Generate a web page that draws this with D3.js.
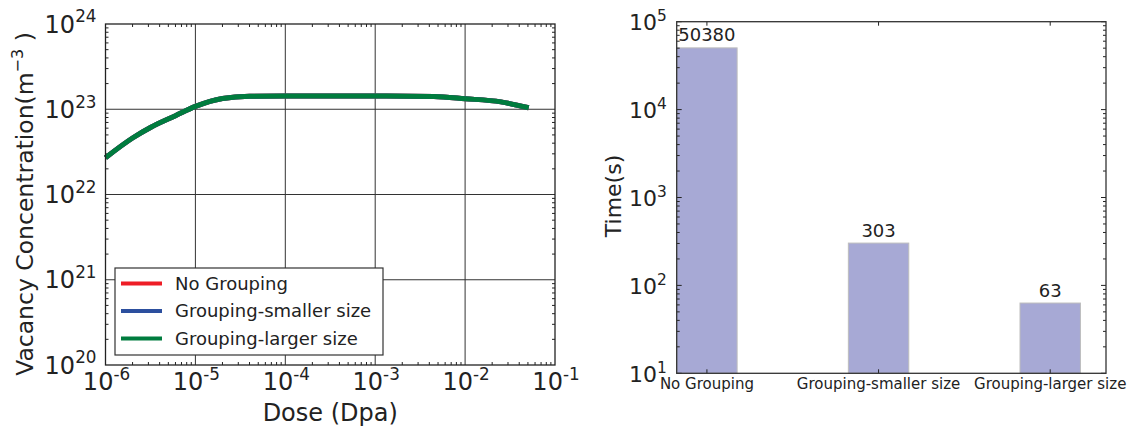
<!DOCTYPE html>
<html><head><meta charset="utf-8">
<script src="https://cdn.jsdelivr.net/npm/d3@7"></script>
<style>
body{margin:0;background:#fff;}
svg{display:block;font-family:"DejaVu Sans",sans-serif;}
</style></head><body>
<svg id="c" width="1135" height="432"></svg>
<script>
// ---- Left chart data ----
const dose = [1e-6, 2e-6, 3.2e-6, 6e-6, 1e-5, 2e-5, 4e-5, 1e-4, 1e-3, 4.5e-3, 1e-2, 2.5e-2, 5.1e-2];
const noGrouping      = [2.7e22, 4.6e22, 6.15e22, 8.4e22, 1.08e23, 1.34e23, 1.42e23, 1.43e23, 1.43e23, 1.41e23, 1.33e23, 1.22e23, 1.04e23];
const groupingSmaller = [2.7e22, 4.6e22, 6.15e22, 8.4e22, 1.08e23, 1.34e23, 1.42e23, 1.43e23, 1.43e23, 1.41e23, 1.33e23, 1.22e23, 1.04e23];
const groupingLarger  = [2.7e22, 4.6e22, 6.15e22, 8.4e22, 1.08e23, 1.34e23, 1.42e23, 1.43e23, 1.43e23, 1.41e23, 1.33e23, 1.22e23, 1.04e23];
const seriesNames = ["No Grouping", "Grouping-smaller size", "Grouping-larger size"];
const xTickExps = [-6, -5, -4, -3, -2, -1];
const yTickExps = [20, 21, 22, 23, 24];

// ---- Right chart data ----
const methods = ["No Grouping", "Grouping-smaller size", "Grouping-larger size"];
const times = [50380, 303, 63];
const timeTickExps = [1, 2, 3, 4, 5];

const svg = d3.select("#c");

function sciLabel(g, x, y, exp, size, anchor) {
  const t = g.append("text").attr("x", x).attr("y", y).attr("text-anchor", anchor)
    .attr("font-size", size).attr("fill", "#222");
  t.append("tspan").text("10");
  t.append("tspan").attr("dy", -size * 0.42).attr("font-size", size * 0.7).text(String(exp));
  return t;
}

// ================= LEFT CHART =================
const L = {left: 105.5, right: 555, top: 24, bottom: 365};
const x = d3.scaleLog().domain([1e-6, 1e-1]).range([L.left, L.right]);
const y = d3.scaleLog().domain([1e20, 1e24]).range([L.bottom, L.top]);
const gL = svg.append("g");

// grid
xTickExps.slice(1, -1).forEach(e => {
  gL.append("line").attr("x1", x(10 ** e)).attr("x2", x(10 ** e)).attr("y1", L.top).attr("y2", L.bottom)
    .attr("stroke", "#333").attr("stroke-width", 1);
});
yTickExps.slice(1, -1).forEach(e => {
  gL.append("line").attr("y1", y(10 ** e)).attr("y2", y(10 ** e)).attr("x1", L.left).attr("x2", L.right)
    .attr("stroke", "#333").attr("stroke-width", 1);
});

// minor ticks
const xMinor = [];
for (let e = -6; e < -1; e++) for (let m = 2; m <= 9; m++) xMinor.push(m * 10 ** e);
const yMinor = [];
for (let e = 20; e < 24; e++) for (let m = 2; m <= 9; m++) yMinor.push(m * 10 ** e);
xMinor.forEach(v => {
  gL.append("line").attr("x1", x(v)).attr("x2", x(v)).attr("y1", L.bottom).attr("y2", L.bottom - 3).attr("stroke", "#222");
  gL.append("line").attr("x1", x(v)).attr("x2", x(v)).attr("y1", L.top).attr("y2", L.top + 3).attr("stroke", "#222");
});
yMinor.forEach(v => {
  gL.append("line").attr("y1", y(v)).attr("y2", y(v)).attr("x1", L.left).attr("x2", L.left + 3).attr("stroke", "#222");
  gL.append("line").attr("y1", y(v)).attr("y2", y(v)).attr("x1", L.right).attr("x2", L.right - 3).attr("stroke", "#222");
});

// lines
const lineGen = vals => d3.line().curve(d3.curveMonotoneX).x((d, i) => x(dose[i])).y(d => y(d))(vals);
const colors = ["#ee1d26", "#2c4f9e", "#007c3e"];
[noGrouping, groupingSmaller, groupingLarger].forEach((vals, i) => {
  gL.append("path").attr("d", lineGen(vals)).attr("fill", "none").attr("stroke", colors[i])
    .attr("stroke-width", 5).attr("stroke-linejoin", "round");
});

// frame
gL.append("rect").attr("x", L.left).attr("y", L.top).attr("width", L.right - L.left).attr("height", L.bottom - L.top)
  .attr("fill", "none").attr("stroke", "#222").attr("stroke-width", 1.3);

// tick labels
xTickExps.forEach(e => sciLabel(gL, x(10 ** e) + 1, L.bottom + 25, e, 24, "middle"));
yTickExps.forEach(e => sciLabel(gL, L.left - 9, y(10 ** e) + 8.5, e, 24, "end"));

// axis titles
gL.append("text").attr("x", (L.left + L.right) / 2).attr("y", 421).attr("text-anchor", "middle")
  .attr("font-size", 24).attr("fill", "#222").text("Dose (Dpa)");
const yt = gL.append("text").attr("transform", "translate(33,204) rotate(-90)").attr("text-anchor", "middle")
  .attr("font-size", 23.5).attr("fill", "#222");
yt.append("tspan").text("Vacancy Concentration(m");
yt.append("tspan").attr("dy", -10).attr("font-size", 16).text("\u22123");
yt.append("tspan").attr("dy", 10).text(" )");

// legend
const lg = gL.append("g");
lg.append("rect").attr("x", 115).attr("y", 268).attr("width", 268).attr("height", 87)
  .attr("fill", "#fff").attr("stroke", "#333").attr("stroke-width", 1.2);
seriesNames.forEach((n, i) => {
  const cy = 283.5 + i * 27.5;
  lg.append("line").attr("x1", 121).attr("x2", 162).attr("y1", cy).attr("y2", cy)
    .attr("stroke", colors[i]).attr("stroke-width", 4);
  lg.append("text").attr("x", 175).attr("y", cy + 6.3).attr("font-size", 18).attr("fill", "#222").text(n);
});

// ================= RIGHT CHART =================
const R = {left: 676.7, right: 1106, top: 21.7, bottom: 373.3};
const xb = d3.scaleLinear().domain([-0.176, 2.325]).range([R.left, R.right]);
const yb = d3.scaleLog().domain([10, 1e5]).range([R.bottom, R.top]);
const barW = 0.352;
const gR = svg.append("g");

methods.forEach((m, i) => {
  gR.append("rect").attr("x", xb(i - barW / 2)).attr("y", yb(times[i]))
    .attr("width", xb(barW) - xb(0)).attr("height", R.bottom - yb(times[i]))
    .attr("fill", "#a7a9d5").attr("stroke", "#bdbdbd").attr("stroke-width", 1);
  gR.append("text").attr("x", xb(i)).attr("y", yb(times[i]) - 6.5).attr("text-anchor", "middle")
    .attr("font-size", 18).attr("fill", "#222").text(times[i]);
  gR.append("text").attr("x", xb(i)).attr("y", 389).attr("text-anchor", "middle")
    .attr("font-size", 15).attr("fill", "#222").text(m);
  // x ticks
  gR.append("line").attr("x1", xb(i)).attr("x2", xb(i)).attr("y1", R.bottom).attr("y2", R.bottom - 4).attr("stroke", "#222");
  gR.append("line").attr("x1", xb(i)).attr("x2", xb(i)).attr("y1", R.top).attr("y2", R.top + 4).attr("stroke", "#222");
});

// y ticks
const tMinor = [];
for (let e = 1; e < 5; e++) for (let mm = 2; mm <= 9; mm++) tMinor.push(mm * 10 ** e);
tMinor.forEach(v => {
  gR.append("line").attr("y1", yb(v)).attr("y2", yb(v)).attr("x1", R.left).attr("x2", R.left + 3).attr("stroke", "#222");
  gR.append("line").attr("y1", yb(v)).attr("y2", yb(v)).attr("x1", R.right).attr("x2", R.right - 3).attr("stroke", "#222");
});
timeTickExps.forEach(e => {
  gR.append("line").attr("y1", yb(10 ** e)).attr("y2", yb(10 ** e)).attr("x1", R.left).attr("x2", R.left + 5).attr("stroke", "#222");
  gR.append("line").attr("y1", yb(10 ** e)).attr("y2", yb(10 ** e)).attr("x1", R.right).attr("x2", R.right - 5).attr("stroke", "#222");
  sciLabel(gR, R.left - 10, yb(10 ** e) + 8.5, e, 22, "end");
});

// frame
gR.append("rect").attr("x", R.left).attr("y", R.top).attr("width", R.right - R.left).attr("height", R.bottom - R.top)
  .attr("fill", "none").attr("stroke", "#333").attr("stroke-width", 1.3);

gR.append("text").attr("transform", "translate(621,196) rotate(-90)").attr("text-anchor", "middle")
  .attr("font-size", 22).attr("fill", "#222").text("Time(s)");
</script>
</body></html>
